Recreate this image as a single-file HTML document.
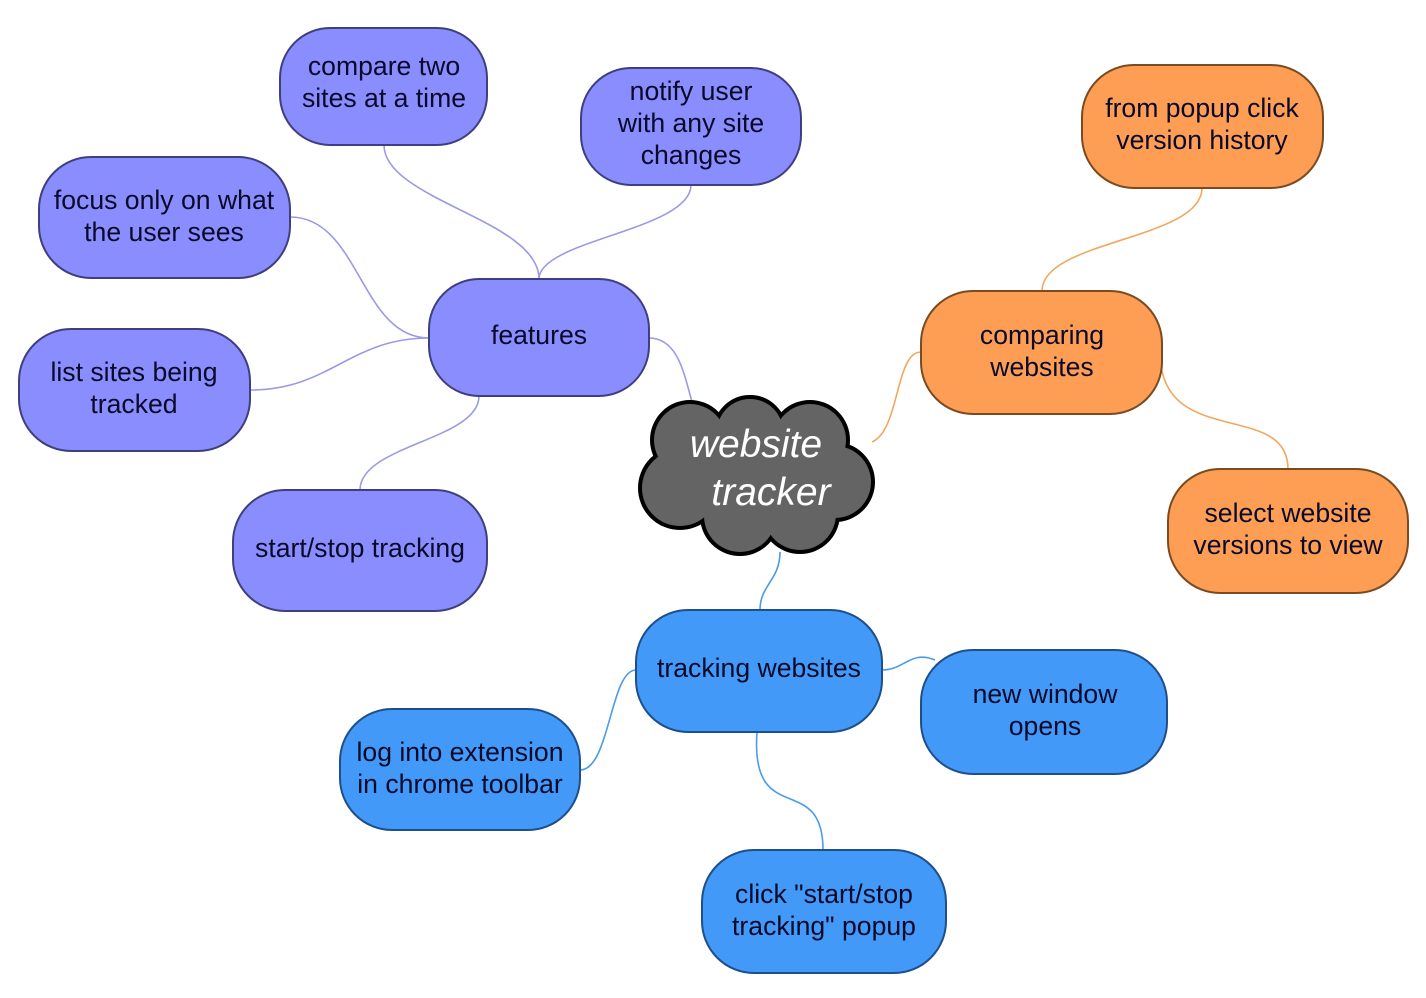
<!DOCTYPE html>
<html><head><meta charset="utf-8"><style>
html,body{margin:0;padding:0;background:#fff}
svg{display:block}
text{font-family:"Liberation Sans",sans-serif;font-size:26.6px;text-anchor:middle;fill:#0a0a2a}
</style></head><body>
<svg width="1426" height="998" viewBox="0 0 1426 998" xmlns="http://www.w3.org/2000/svg">
<g fill="none" stroke-width="1.6">
<g stroke="#9a9ae6">
<path d="M384,145 C384,200 539,220 539,279"/>
<path d="M691,185 C691,230 539,240 539,279"/>
<path d="M290,217 C360,217 360,338 429,338"/>
<path d="M250,390 C330,390 350,338 429,338"/>
<path d="M479,396 C479,440 360,445 360,490"/>
<path d="M649,338 C680,338 685,380 693,405"/>
</g>
<g stroke="#f0a860">
<path d="M872,442 C900,430 895,352 921,352"/>
<path d="M1042,291 C1042,240 1202,240 1202,188"/>
<path d="M1160,352 C1160,450 1288,400 1288,469"/>
</g>
<g stroke="#4a9be8">
<path d="M780,552 C780,580 760,585 760,610"/>
<path d="M882,670 C905,670 910,650 935,660"/>
<path d="M636,670 C610,670 610,770 580,770"/>
<path d="M757,732 C750,830 823,770 823,850"/>
</g>
</g>
<g fill="#8a8dfd" stroke="#3f3f7f" stroke-width="2">
<rect x="280" y="28" width="207" height="117" rx="50"/>
<rect x="581" y="68" width="220" height="117" rx="50"/>
<rect x="39" y="157" width="251" height="121" rx="52"/>
<rect x="429" y="279" width="220" height="117" rx="50"/>
<rect x="19" y="329" width="231" height="122" rx="52"/>
<rect x="233" y="490" width="254" height="121" rx="52"/>
</g>
<g fill="#fd9e54" stroke="#7a4a20" stroke-width="2">
<rect x="1082" y="65" width="241" height="123" rx="52"/>
<rect x="921" y="291" width="241" height="123" rx="52"/>
<rect x="1168" y="469" width="240" height="124" rx="52"/>
</g>
<g fill="#4299f8" stroke="#1e4f8a" stroke-width="2">
<rect x="636" y="610" width="246" height="122" rx="52"/>
<rect x="921" y="650" width="246" height="124" rx="52"/>
<rect x="340" y="709" width="240" height="121" rx="52"/>
<rect x="702" y="850" width="244" height="123" rx="52"/>
</g>
<g stroke="#000" stroke-width="8" fill="#000">
<circle cx="690" cy="440" r="36"/><circle cx="750" cy="432" r="33"/><circle cx="810" cy="440" r="36"/>
<circle cx="835" cy="482" r="36"/><circle cx="800" cy="514" r="36"/><circle cx="740" cy="516" r="36"/>
<circle cx="680" cy="488" r="38"/><circle cx="755" cy="475" r="50"/>
</g>
<g fill="#646464">
<circle cx="690" cy="440" r="36"/><circle cx="750" cy="432" r="33"/><circle cx="810" cy="440" r="36"/>
<circle cx="835" cy="482" r="36"/><circle cx="800" cy="514" r="36"/><circle cx="740" cy="516" r="36"/>
<circle cx="680" cy="488" r="38"/><circle cx="755" cy="475" r="50"/>
</g>
<text x="756" y="457" style="font-size:39px;fill:#fff;font-style:italic">website</text>
<text x="771" y="505" style="font-size:39px;fill:#fff;font-style:italic">tracker</text>
<text x="384" y="75">compare two</text><text x="384" y="107">sites at a time</text>
<text x="691" y="100">notify user</text><text x="691" y="132">with any site</text><text x="691" y="164">changes</text>
<text x="164" y="209">focus only on what</text><text x="164" y="241">the user sees</text>
<text x="539" y="344">features</text>
<text x="134" y="381">list sites being</text><text x="134" y="413">tracked</text>
<text x="360" y="557">start/stop tracking</text>
<text x="1202" y="117">from popup click</text><text x="1202" y="149">version history</text>
<text x="1042" y="344">comparing</text><text x="1042" y="376">websites</text>
<text x="1288" y="522">select website</text><text x="1288" y="554">versions to view</text>
<text x="759" y="677">tracking websites</text>
<text x="1045" y="703">new window</text><text x="1045" y="735">opens</text>
<text x="460" y="761">log into extension</text><text x="460" y="793">in chrome toolbar</text>
<text x="824" y="903">click "start/stop</text><text x="824" y="935">tracking" popup</text>
</svg>
</body></html>
